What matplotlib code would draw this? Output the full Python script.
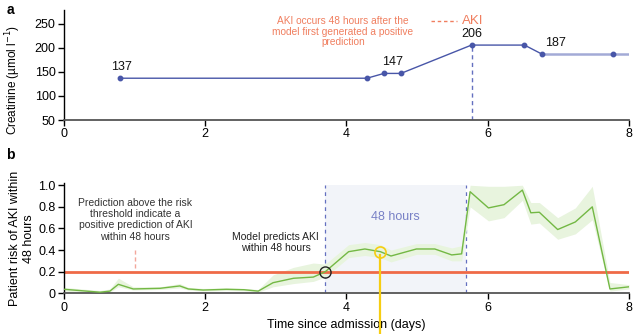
import matplotlib
matplotlib.use("Agg")
import matplotlib.pyplot as plt

plt.rcParams["font.family"] = ["Liberation Sans", "DejaVu Sans"]

# Creatinine measurements (days since admission, umol/l)
creat_days = [0.80, 4.29, 4.53, 4.77, 5.77, 6.52, 6.77, 7.77]
creat_vals = [137, 137, 147, 147, 206, 206, 187, 187]
creat_end = 8.0

# Values written above selected measurements
label_vals = [137, 147, 206, 187]
label_days = [0.82, 4.65, 5.77, 6.96]
label_ref = [137, 147, 206, 187]

aki_day = 5.77

# Model risk output with its uncertainty band
risk_days = [0.00, 0.51, 0.65, 0.77, 0.98, 1.36, 1.64, 1.76, 1.97, 2.30, 2.55, 2.75,
             2.96, 3.25, 3.53, 3.70, 4.03, 4.26, 4.48, 4.63, 4.99, 5.25, 5.49, 5.63,
             5.75, 6.01, 6.23, 6.49, 6.61, 6.73, 6.99, 7.24, 7.48, 7.73, 8.00]
risk = [0.037, 0.010, 0.020, 0.083, 0.040, 0.046, 0.068, 0.040, 0.030, 0.037, 0.033, 0.020,
        0.098, 0.139, 0.150, 0.200, 0.385, 0.410, 0.385, 0.345, 0.410, 0.410, 0.355, 0.365,
        0.940, 0.790, 0.820, 0.955, 0.745, 0.750, 0.590, 0.660, 0.800, 0.040, 0.060]
risk_lo = [0.020, 0.000, 0.010, 0.060, 0.030, 0.035, 0.050, 0.030, 0.020, 0.025, 0.022, 0.010,
           0.060, 0.090, 0.110, 0.150, 0.330, 0.350, 0.330, 0.290, 0.360, 0.360, 0.300, 0.300,
           0.800, 0.670, 0.700, 0.860, 0.640, 0.650, 0.500, 0.550, 0.680, 0.020, 0.040]
risk_hi = [0.055, 0.025, 0.040, 0.140, 0.060, 0.060, 0.090, 0.055, 0.045, 0.050, 0.045, 0.035,
           0.170, 0.240, 0.280, 0.270, 0.450, 0.470, 0.450, 0.400, 0.460, 0.460, 0.420, 0.440,
           1.000, 0.990, 0.990, 1.000, 0.840, 0.840, 0.700, 0.790, 0.990, 0.100, 0.080]

threshold = 0.2
window_start, window_end = 3.70, 5.69
first_alert = (3.70, 0.20)
marked_point = (4.48, 0.385)

NAVY = "#4856a8"
LIGHT_NAVY = "#a3aad6"
SALMON = "#f07e5f"
RED = "#ef6a47"
GREEN = "#73b844"
BAND = "#e8f4de"
DASH_BLUE = "#6470c0"
YELLOW = "#f6cd12"
SPINE = "#555555"


def style_axis(ax):
    ax.spines["top"].set_visible(False)
    ax.spines["right"].set_visible(False)
    ax.spines["bottom"].set_color(SPINE)
    ax.spines["bottom"].set_linewidth(1.3)
    ax.spines["left"].set_linewidth(1.0)
    ax.tick_params(axis="both", direction="out", length=4, width=1, labelsize=9, pad=2)
    ax.set_xlim(0, 8)
    ax.set_xticks([0, 2, 4, 6, 8])


fig = plt.figure(figsize=(6.38, 3.34), dpi=100)

# ── panel a: creatinine ───────────────────────────────────────────────
ax1 = fig.add_axes([0.1003, 0.6407, 0.8856, 0.3293])
style_axis(ax1)
ax1.set_ylim(50, 279)
ax1.set_yticks([50, 100, 150, 200, 250])

ax1.plot(creat_days[:7], creat_vals[:7], color=NAVY, lw=1.0, zorder=3)
ax1.plot(creat_days[6:] + [creat_end], creat_vals[6:] + [creat_vals[-1]],
         color=LIGHT_NAVY, lw=1.8, zorder=2)
ax1.plot(creat_days, creat_vals, "o", color=NAVY, ms=3.2, zorder=4)

ax1.plot([aki_day, aki_day], [50, 206], color=DASH_BLUE, lw=1.0, ls=(0, (3, 2.5)))

for v, d, r in zip(label_vals, label_days, label_ref):
    ax1.annotate(str(v), xy=(d, r), xytext=(0, 4), textcoords="offset points",
                 ha="center", va="bottom", fontsize=9, color="#111111")

ax1.text(3.95, 234, "AKI occurs 48 hours after the\nmodel first generated a positive\nprediction",
         ha="center", va="center", fontsize=7.3, color=SALMON, linespacing=1.1)
ax1.plot([5.19, 5.57], [257, 257], color=SALMON, lw=1.0, ls=(0, (2.5, 2)))
ax1.text(5.63, 257, "AKI", ha="left", va="center", fontsize=9.5, color=SALMON)

ax1.set_ylabel("Creatinine (µmol l$^{-1}$)", fontsize=8.5)
ax1.yaxis.set_label_coords(-0.072, 0.36)

# ── panel b: predicted risk ───────────────────────────────────────────
ax2 = fig.add_axes([0.1003, 0.1219, 0.8856, 0.3300])
style_axis(ax2)
ax2.set_ylim(0, 1.02)
ax2.set_yticks([0, 0.2, 0.4, 0.6, 0.8, 1.0])
ax2.set_yticklabels(["0", "0.2", "0.4", "0.6", "0.8", "1.0"])

ax2.axvspan(window_start, window_end, ymin=0, ymax=1.0 / 1.02,
            facecolor="#f2f4f9", edgecolor="none", zorder=0)
for xv in (window_start, window_end):
    ax2.plot([xv, xv], [0, 1.0], color=DASH_BLUE, lw=0.9, ls=(0, (3, 3)), zorder=1)
ax2.text((window_start + window_end) / 2, 0.71, "48 hours", ha="center", va="center",
         fontsize=9, color="#7880c6")

ax2.fill_between(risk_days, risk_lo, risk_hi, color=BAND, lw=0, zorder=1)
ax2.axhline(threshold, color=RED, lw=2.0, zorder=2)
ax2.plot(risk_days, risk, color=GREEN, lw=1.0, zorder=3)

# yellow marker running down off the bottom of the axes
ax2.plot([marked_point[0], marked_point[0]], [marked_point[1] - 0.03, -0.38],
         color=YELLOW, lw=1.6, clip_on=False, zorder=5)
ax2.plot(*marked_point, "o", ms=8, mfc="none", mec=YELLOW, mew=1.2, zorder=6)
ax2.plot(*first_alert, "o", ms=8, mfc="none", mec="#222222", mew=1.0, zorder=6)

ax2.text(1.01, 0.68, "Prediction above the risk\nthreshold indicate a\npositive prediction of AKI\nwithin 48 hours",
         ha="center", va="center", fontsize=7.5, color="#333333", linespacing=1.15)
ax2.plot([1.01, 1.01], [0.23, 0.40], color="#f3a79c", lw=1.0, ls=(0, (3, 2)))
ax2.text(3.0, 0.47, "Model predicts AKI\nwithin 48 hours", ha="center", va="center",
         fontsize=7.5, color="#222222", linespacing=1.15)

ax2.set_ylabel("Patient risk of AKI within\n48 hours", fontsize=9)
ax2.yaxis.set_label_coords(-0.052, 0.5)
ax2.set_xlabel("Time since admission (days)", fontsize=9, labelpad=4)

fig.text(0.010, 0.992, "a", fontsize=10, fontweight="bold", va="top")
fig.text(0.010, 0.558, "b", fontsize=10, fontweight="bold", va="top")

fig.savefig("out.png", dpi=100)
